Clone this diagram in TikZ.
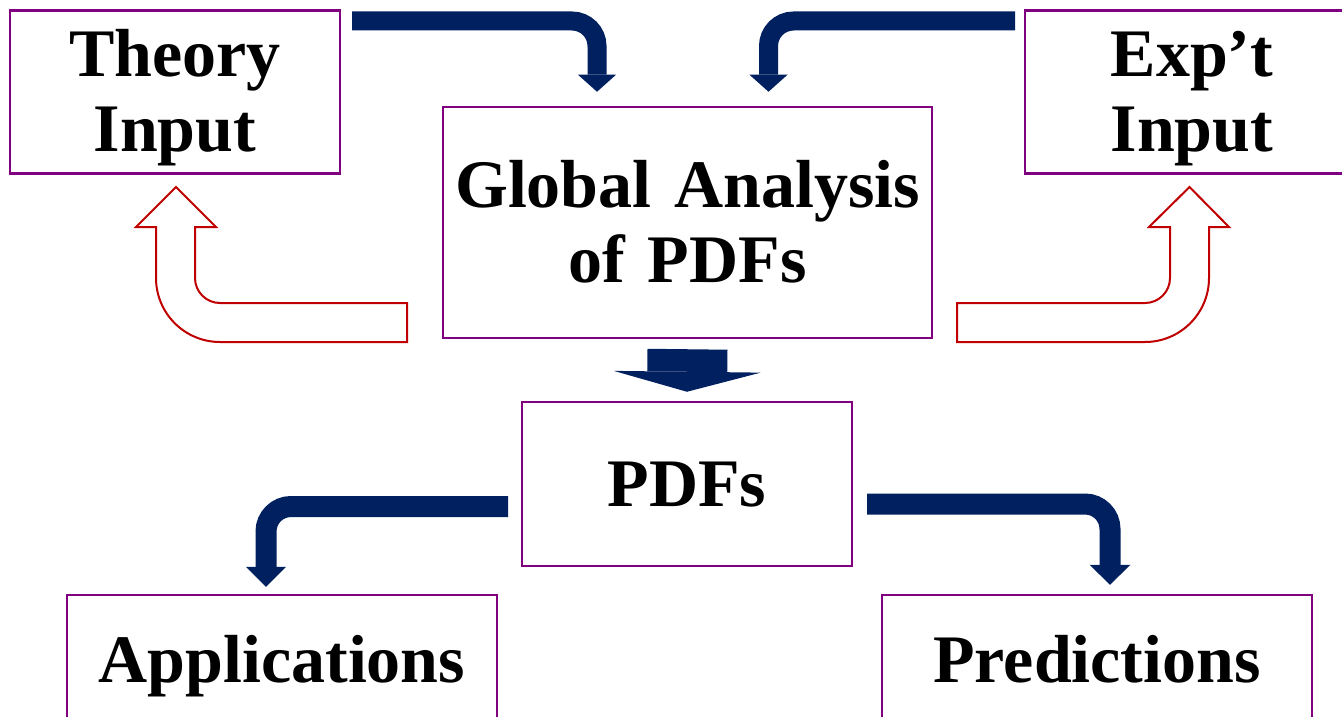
\documentclass[tikz,border=0pt]{standalone}
\usepackage{fontspec}
\setmainfont{Liberation Serif}
\usetikzlibrary{arrows.meta,calc}
\definecolor{navy}{HTML}{002060}
\definecolor{boxpurple}{HTML}{800080}
\definecolor{redline}{HTML}{C00000}
\tikzset{
  box/.style={draw=boxpurple, line width=2.5pt, inner sep=0pt, align=center,
    font=\bfseries\fontsize{68}{75}\selectfont, text height=45pt},
  twoline/.style={text depth=75pt},
  oneline/.style={text depth=0pt},
  navyarrow/.style={draw=navy, line width=19pt, rounded corners=25pt,
    -{Triangle[width=38pt,length=17pt,line width=0pt]}},
  blockarrow/.style={draw=navy, line width=80pt,
    -{Triangle[width=147pt,length=20pt,line width=0pt]}},
  hollow/.style={draw=redline, line width=2pt, fill=white, line join=miter}
}
\begin{document}
\begin{tikzpicture}[x=1pt,y=-1pt]
\path[use as bounding box] (0,0) rectangle (1342,717);
\clip (0,0) rectangle (1342,717);

% boxes
\node[box, twoline, minimum width=330pt, minimum height=163pt, text width=330pt] (theory) at (175,92) {Theory\\Input};
\node[box, twoline, minimum width=334pt, minimum height=163pt, text width=334pt] (expt) at (1192,92) {Exp’t\\Input};
\node[box, twoline, minimum width=489pt, minimum height=231pt, text width=489pt] (global) at (687.5,222.5) {Global Analysis\\of PDFs};
\node[box, oneline, minimum width=330pt, minimum height=164pt, text width=330pt] (pdfs) at (687,484) {PDFs};
\node[box, oneline, minimum width=430pt, minimum height=130pt, text width=430pt] (app) at (282,660) {Applications};
\node[box, oneline, minimum width=430pt, minimum height=130pt, text width=430pt] (pred) at (1097,660) {Predictions};

% navy connectors
\coordinate (a1s) at (352,21);
\coordinate (a2s) at (1015,21);
\coordinate (a4s) at (508,506.5);
\coordinate (a5s) at (867,504);
\draw[navyarrow] (a1s) -| ([xshift=-90.5pt,yshift=14pt]global.north);
\draw[navyarrow] (a2s) -| ([xshift=81pt,yshift=14pt]global.north);
\draw[navyarrow, line width=21pt, -{Triangle[width=40pt,length=20pt,line width=0pt]}] (a4s) -| ([xshift=-16pt,yshift=7pt]app.north);
\draw[navyarrow, line width=21pt, -{Triangle[width=41pt,length=20pt,line width=0pt]}] (a5s) -| ([xshift=13pt,yshift=9pt]pred.north);
\draw[blockarrow] ([yshift=-10pt]global.south) -- ([yshift=9pt]pdfs.north);

% red hollow bent arrows
\path[hollow] (176,187) -- (216,227) -- (195,227) -- (195,278)
  .. controls (195,291.8) and (206.2,303) .. (220,303) -- (407,303) -- (407,342) -- (220,342)
  .. controls (184.7,342) and (156,313.3) .. (156,278) -- (156,227) -- (136,227) -- cycle;
\path[hollow] (1189.5,187) -- (1229,227) -- (1209,227) -- (1209,278)
  .. controls (1209,313.3) and (1180.3,342) .. (1145,342) -- (957,342) -- (957,303) -- (1145,303)
  .. controls (1158.8,303) and (1170,291.8) .. (1170,278) -- (1170,227) -- (1149,227) -- cycle;
\end{tikzpicture}
\end{document}
